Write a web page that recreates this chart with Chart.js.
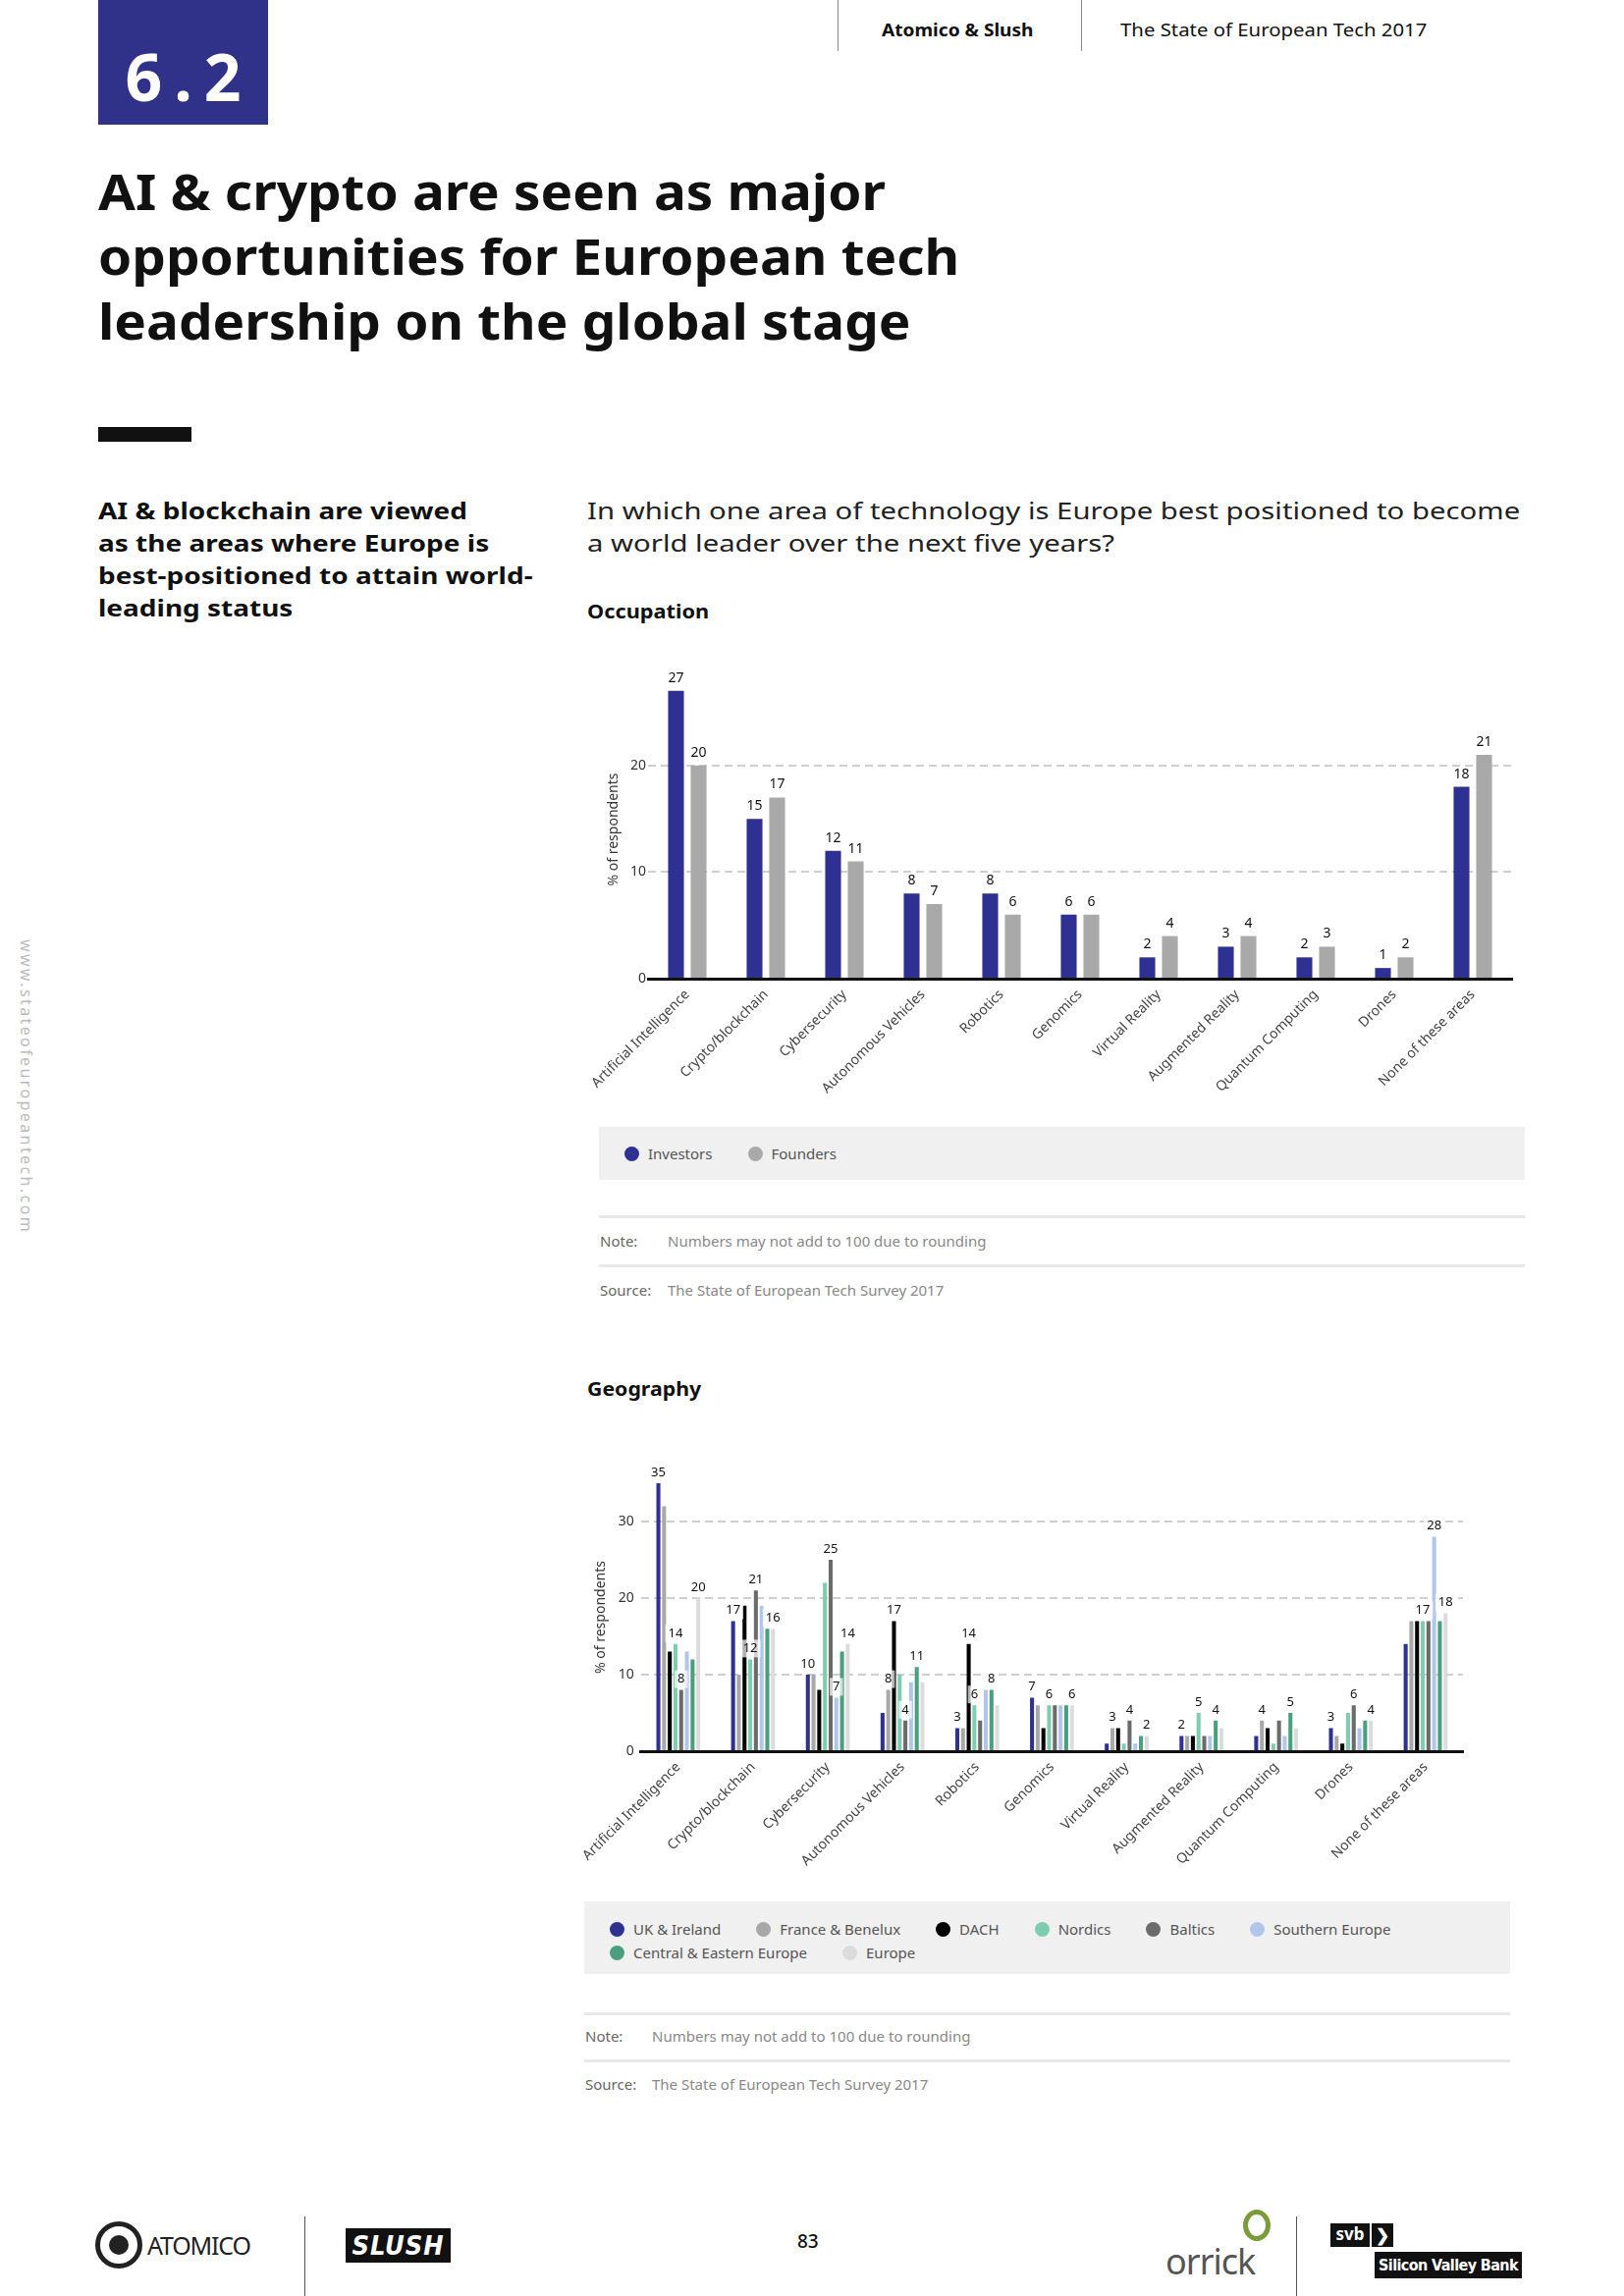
<!DOCTYPE html>
<html><head><meta charset="utf-8">
<script src="https://cdn.jsdelivr.net/npm/chart.js"></script>
<style>
html,body{margin:0;padding:0}
body{width:1654px;height:2339px;position:relative;background:#fff;font-family:"Noto Sans",sans-serif;overflow:hidden;color:#111}
.abs{position:absolute}
#sec{left:100px;top:0;width:173px;height:127px;background:#303189;color:#fff;font:700 66px "Noto Sans";letter-spacing:12px;text-indent:12px;text-align:center;line-height:154px}
.vl{width:1px;background:#888}
.hdr{font-size:18px;top:18px;white-space:nowrap}
#title{left:100px;top:162px;font:700 50px "Noto Sans";line-height:66px;white-space:nowrap}
#bar{left:100px;top:435px;width:95px;height:15px;background:#111}
#sub{left:100px;top:504px;font:700 23px "Noto Sans";line-height:33px;white-space:nowrap}
#q{left:598px;top:504px;font:400 23px "Noto Sans";line-height:33px;white-space:nowrap;color:#222}
.h2{font:700 20px "Noto Sans";white-space:nowrap}
.legbox{background:#f0f0f0}
.leg{display:flex;flex-wrap:wrap;column-gap:36px;row-gap:4px;font-size:15px;color:#555;position:absolute}
.li{display:flex;align-items:center;white-space:nowrap;height:20px}
.dot{width:15px;height:15px;border-radius:50%;margin-right:9px}
.hl{height:3px;background:#e8e8e8}
.nt{font-size:15px;color:#888;white-space:nowrap}
#side{left:27px;top:1107px;transform:translate(-50%,-50%) rotate(90deg);font-size:16px;letter-spacing:2.4px;color:#bbb;white-space:nowrap}
</style></head><body>

<div id="sec" class="abs">6.2</div>
<div class="abs vl" style="left:853px;top:0;height:52px"></div>
<div class="abs vl" style="left:1101px;top:0;height:52px"></div>
<div id="h1" class="abs hdr" style="left:898px;font-weight:700">Atomico &amp; Slush</div>
<div id="h2" class="abs hdr" style="left:1141px">The State of European Tech 2017</div>

<div id="title" class="abs">AI &amp; crypto are seen as major<br>opportunities for European tech<br>leadership on the global stage</div>
<div id="bar" class="abs"></div>

<div id="sub" class="abs">AI &amp; blockchain are viewed<br>as the areas where Europe is<br>best-positioned to attain world-<br>leading status</div>
<div id="q" class="abs">In which one area of technology is Europe best positioned to become<br>a world leader over the next five years?</div>
<div id="occ" class="abs h2" style="left:598px;top:609px">Occupation</div>

<canvas id="c1" class="abs" width="970" height="500" style="left:590px;top:640px"></canvas>

<div class="abs legbox" style="left:610px;top:1148px;width:943px;height:54px"></div>
<div id="leg1" class="leg" style="left:636px;top:1165px;width:900px"></div>
<div class="abs hl" style="left:610px;top:1238px;width:943px"></div>
<div class="abs nt" style="left:611px;top:1254px;color:#666">Note:</div>
<div class="abs nt" style="left:680px;top:1254px">Numbers may not add to 100 due to rounding</div>
<div class="abs hl" style="left:610px;top:1288px;width:943px"></div>
<div class="abs nt" style="left:611px;top:1304px;color:#666">Source:</div>
<div class="abs nt" style="left:680px;top:1304px">The State of European Tech Survey 2017</div>

<div id="geo" class="abs h2" style="left:598px;top:1401px">Geography</div>

<canvas id="c2" class="abs" width="920" height="450" style="left:585px;top:1480px"></canvas>

<div class="abs legbox" style="left:595px;top:1937px;width:943px;height:74px"></div>
<div id="leg2" class="leg" style="left:621px;top:1955px;width:850px"></div>
<div class="abs hl" style="left:595px;top:2050px;width:943px"></div>
<div class="abs nt" style="left:596px;top:2064px;color:#666">Note:</div>
<div class="abs nt" style="left:664px;top:2064px">Numbers may not add to 100 due to rounding</div>
<div class="abs hl" style="left:595px;top:2098px;width:943px"></div>
<div class="abs nt" style="left:596px;top:2113px;color:#666">Source:</div>
<div class="abs nt" style="left:664px;top:2113px">The State of European Tech Survey 2017</div>

<div id="side" class="abs">www.stateofeuropeantech.com</div>

<!-- footer -->
<div class="abs" style="left:97px;top:2263px;width:38px;height:38px;border:5px solid #222;border-radius:50%"></div>
<div class="abs" style="left:111px;top:2277px;width:20px;height:20px;background:#222;border-radius:50%"></div>
<div class="abs" style="left:150px;top:2270px;font:400 25px 'Noto Sans';letter-spacing:-1.2px;color:#222">ATOMICO</div>
<div class="abs vl" style="left:310px;top:2258px;height:81px;background:#555"></div>
<div class="abs" style="left:352px;top:2270px;width:107px;height:35px;background:#111;color:#fff;font:italic 700 27px 'DejaVu Sans Condensed','Noto Sans';text-align:center;line-height:35px;letter-spacing:1px">SLUSH</div>
<div class="abs" style="left:812px;top:2270px;font:500 19px 'Noto Sans';color:#111">83</div>
<div class="abs" style="left:1187px;top:2279px;font:400 36px 'Noto Sans';color:#555;letter-spacing:-1px">orrick</div>
<div class="abs" style="left:1266px;top:2251px;width:18px;height:22px;border:5px solid #7b9b3c;border-radius:50%"></div>
<div class="abs vl" style="left:1320px;top:2258px;height:81px;background:#555"></div>
<div class="abs" style="left:1355px;top:2265px;width:40px;height:24px;background:#111;color:#fff;font:700 17px 'Noto Sans';text-align:center;line-height:22px">svb</div>
<div class="abs" style="left:1397px;top:2265px;width:22px;height:24px;background:#111;color:#fff;font:700 17px 'Noto Sans';text-align:center;line-height:24px">&#x276F;</div>
<div class="abs" style="left:1400px;top:2294px;width:150px;height:27px;background:#111;color:#fff;font:700 16px 'DejaVu Sans Condensed','Noto Sans';text-align:center;line-height:27px;letter-spacing:-0.6px">Silicon Valley Bank</div>

<script>
// ---------- data ----------
const categories = ["Artificial Intelligence","Crypto/blockchain","Cybersecurity","Autonomous Vehicles","Robotics","Genomics","Virtual Reality","Augmented Reality","Quantum Computing","Drones","None of these areas"];
const occSeriesNames = ["Investors","Founders"];
const investors = [27,15,12,8,8,6,2,3,2,1,18];
const founders  = [20,17,11,7,6,6,4,4,3,2,21];
const occTicks = [0,10,20];

const geoSeriesNames = ["UK & Ireland","France & Benelux","DACH","Nordics","Baltics","Southern Europe","Central & Eastern Europe","Europe"];
const ukIreland      = [35,17,10,5,3,7,1,2,2,3,14];
const franceBenelux  = [32,10,10,8,3,6,3,2,4,2,17];
const dach           = [13,19,8,17,14,3,3,2,3,1,17];
const nordics        = [14,12,22,10,6,6,1,5,1,5,17];
const baltics        = [8,21,25,4,4,6,4,2,4,6,17];
const southernEurope = [13,19,7,9,8,6,1,2,2,3,28];
const ceEurope       = [12,16,13,11,8,6,2,4,5,4,17];
const europe         = [20,16,14,9,6,6,2,3,3,4,18];
const geoTicks = [0,10,20,30];
// which series carry a visible value label in each category (geography)
const geoLabelled = [[0,3,4,7],[0,3,4,7],[0,4,5,7],[1,2,4,6],[0,2,3,6],[0,3,7],[1,4,7],[0,3,6],[1,6],[0,4,7],[3,5,7]];

// ---------- styles ----------
const occColors = ["#2e3192","#a9a9a9"];
const geoColors = ["#2e3192","#a8a8a8","#000000","#7fcdb0","#6b6b6b","#b2c6ea","#4a9f80","#dcdcdc"];
const FONT = "'Noto Sans', sans-serif";

// stretch text blocks horizontally to the reference's (wider) typeface widths
function fitWidth(id, target){
  const el=document.getElementById(id);
  el.style.transformOrigin='0 0';
  el.style.transform='scaleX('+(target/el.offsetWidth)+')';
}
fitWidth('title',877); fitWidth('sub',443); fitWidth('q',950);
fitWidth('h1',155); fitWidth('h2',312); fitWidth('occ',124); fitWidth('geo',116);

function buildLegend(id, names, colors){
  const el = document.getElementById(id);
  names.forEach((n,i)=>{
    const d=document.createElement('div'); d.className='li';
    d.innerHTML='<span class="dot" style="background:'+colors[i]+'"></span><span>'+n.replace('&','&amp;')+'</span>';
    el.appendChild(d);
  });
}
buildLegend('leg1', occSeriesNames, occColors);
buildLegend('leg2', geoSeriesNames, geoColors);

function labelPlugin(fontSize, offset, bg, filterFn){
  return {
    id:'vlabels',
    afterDatasetsDraw(chart){
      const ctx=chart.ctx;
      ctx.save();
      ctx.font = fontSize+"px "+FONT;
      ctx.textAlign='center'; ctx.textBaseline='middle';
      chart.data.datasets.forEach((ds,di)=>{
        const meta=chart.getDatasetMeta(di);
        meta.data.forEach((bar,ci)=>{
          if(filterFn && !filterFn(di,ci)) return;
          const txt=String(ds.data[ci]);
          const x=bar.x, y=bar.y-offset;
          if(bg){
            const w=ctx.measureText(txt).width+6;
            ctx.fillStyle=bg;
            ctx.fillRect(x-w/2,y-9,w,18);
          }
          ctx.fillStyle='#111';
          ctx.fillText(txt,x,y);
        });
      });
      ctx.restore();
    }
  };
}

function yScale(max, ticks, widthPx, titlePad, tickPad){
  return {
    min:0, max:max,
    afterBuildTicks:s=>{ s.ticks = ticks.map(v=>({value:v})); },
    afterFit:s=>{ s.width = widthPx; },
    border:{display:false, dash:[8,5]},
    grid:{color:c=> c.tick && c.tick.value===0 ? 'rgba(0,0,0,0)' : '#cfcfcf', lineWidth:2, drawTicks:false},
    ticks:{color:'#333', font:{size:14, family:FONT}, padding:tickPad},
    title:{display:true, text:'% of respondents', color:'#333', font:{size:14, family:FONT}, padding:{top:titlePad, bottom:0}}
  };
}
function xScale(heightPx){
  return {
    afterFit:s=>{ s.height = heightPx; },
    grid:{display:false, drawTicks:false},
    border:{display:true, color:'#111', width:3},
    ticks:{color:'#444', font:{size:14, family:FONT}, minRotation:45, maxRotation:45, autoSkip:false, padding:8}
  };
}

new Chart(document.getElementById('c1'),{
  type:'bar',
  data:{labels:categories, datasets:[
    {label:occSeriesNames[0], data:investors, backgroundColor:occColors[0]},
    {label:occSeriesNames[1], data:founders, backgroundColor:occColors[1]}
  ]},
  options:{
    responsive:false, animation:false,
    layout:{padding:{top:53,right:20,left:0,bottom:0}},
    datasets:{bar:{categoryPercentage:0.575, barPercentage:0.7}},
    plugins:{legend:{display:false}, tooltip:{enabled:false}},
    scales:{ x:xScale(143), y:yScale(28, occTicks, 70, 27, 2) }
  },
  plugins:[labelPlugin(14, 13, null, null)]
});

const geoData=[ukIreland,franceBenelux,dach,nordics,baltics,southernEurope,ceEurope,europe];
new Chart(document.getElementById('c2'),{
  type:'bar',
  data:{labels:categories, datasets: geoData.map((d,i)=>({label:geoSeriesNames[i], data:d, backgroundColor:geoColors[i]}))},
  options:{
    responsive:false, animation:false,
    layout:{padding:{top:31,right:15,left:0,bottom:0}},
    datasets:{bar:{categoryPercentage:0.61, barPercentage:0.7}},
    plugins:{legend:{display:false}, tooltip:{enabled:false}},
    scales:{ x:xScale(146), y:yScale(35, geoTicks, 65, 16, 7) }
  },
  plugins:[labelPlugin(13, 11, 'rgba(255,255,255,0.7)', (di,ci)=>geoLabelled[ci].includes(di))]
});
</script>
</body></html>
